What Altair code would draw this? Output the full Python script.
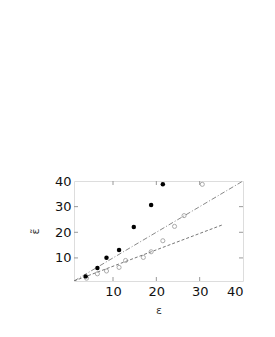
import altair as alt
import pandas as pd

# data
filled_x = [3.7, 6.4, 8.5, 11.4, 14.8, 18.8, 21.5]
filled_y = [2.8, 6.1, 10.1, 13.1, 22.1, 30.6, 38.7]
open_x = [3.9, 6.4, 8.5, 11.4, 12.9, 17.0, 18.8, 21.5, 24.2, 26.4, 30.6]
open_y = [2.1, 3.8, 4.9, 6.3, 9.0, 10.2, 12.4, 16.7, 22.3, 26.5, 38.7]
line1_x = [1, 40]
line1_y = [1, 40]
line2_x = [1, 35.1]
line2_y = [1, 22.8]
axis_values = [10, 20, 30, 40]
inner_ticks = [10, 20, 30]

W, H = 169, 100
GREY = "#999999"
FONT = "DejaVu Sans"

xs = alt.Scale(domain=[1, 40], nice=False, zero=False)
ys = alt.Scale(domain=[1, 40], nice=False, zero=False)

filled = pd.DataFrame({"x": filled_x, "y": filled_y})
opened = pd.DataFrame({"x": open_x, "y": open_y})
l1 = pd.DataFrame({"x": line1_x, "y": line1_y})
l2 = pd.DataFrame({"x": line2_x, "y": line2_y})
tk = pd.DataFrame({"x": inner_ticks, "y": inner_ticks})

x_axis = alt.Axis(values=axis_values, ticks=False, grid=False, domain=False,
                  labelFont=FONT, labelFontSize=13, labelColor="#111",
                  labelPadding=4, title="ε", titleFont=FONT, titleFontSize=11,
                  titleFontWeight="normal", titleColor="#333", titlePadding=6)
y_axis = alt.Axis(values=axis_values, ticks=False, grid=False, domain=False,
                  labelFont=FONT, labelFontSize=13, labelColor="#111",
                  labelPadding=3, title="ε̃", titleFont=FONT, titleFontSize=11,
                  titleFontWeight="normal", titleColor="#333", titlePadding=14)

X = alt.X("x:Q", scale=xs, axis=x_axis)
Y = alt.Y("y:Q", scale=ys, axis=y_axis)

filled_pts = alt.Chart(filled).mark_circle(color="black", opacity=1, size=20).encode(x=X, y=Y)
open_pts = alt.Chart(opened).mark_point(color="#888", filled=False, size=17, strokeWidth=1).encode(x=X, y=Y)
line1 = alt.Chart(l1).mark_line(color="#888", strokeWidth=1, strokeDash=[5, 2, 1, 2], clip=True).encode(x=X, y=Y)
line2 = alt.Chart(l2).mark_line(color="#777", strokeWidth=1, strokeDash=[3, 2], clip=True).encode(x=X, y=Y)

tick_top = alt.Chart(tk).mark_rule(color=GREY, strokeWidth=1).encode(
    x=X, y=alt.value(0), y2=alt.value(4))
tick_bot = alt.Chart(tk).mark_rule(color=GREY, strokeWidth=1).encode(
    x=X, y=alt.value(H), y2=alt.value(H - 4))
tick_left = alt.Chart(tk).mark_rule(color=GREY, strokeWidth=1).encode(
    y=Y, x=alt.value(0), x2=alt.value(4))
tick_right = alt.Chart(tk).mark_rule(color=GREY, strokeWidth=1).encode(
    y=Y, x=alt.value(W), x2=alt.value(W - 4))

chart = alt.layer(
    line1, line2, open_pts, filled_pts, tick_top, tick_bot, tick_left, tick_right
).properties(
    width=W, height=H,
    autosize="none",
    padding={"left": 66, "top": 173, "right": 20, "bottom": 40},
).configure_view(stroke=GREY, strokeWidth=1).configure(background="white")

chart.save("out.html", embed_options={"renderer": "svg", "actions": False})
